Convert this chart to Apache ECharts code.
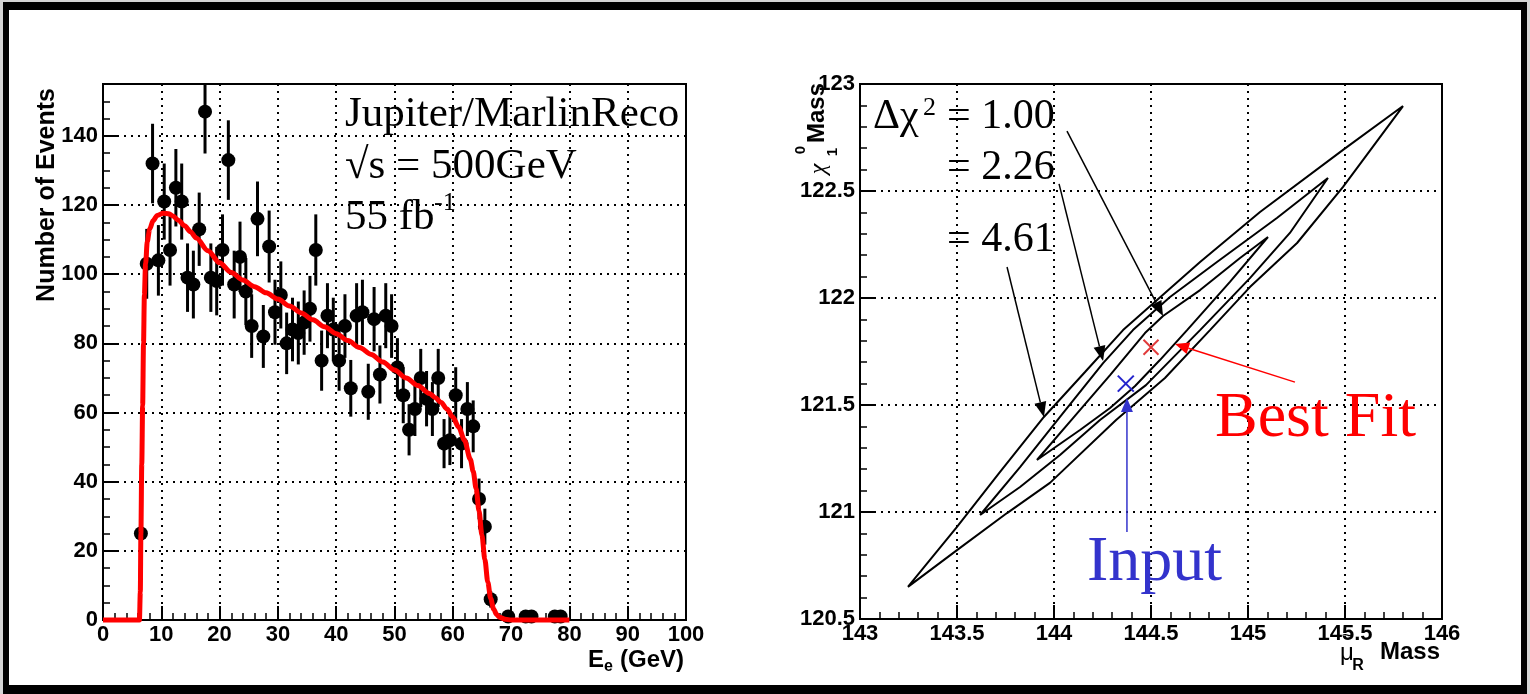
<!DOCTYPE html>
<html><head><meta charset="utf-8">
<script src="https://cdn.jsdelivr.net/npm/echarts@6/dist/echarts.min.js"></script>
<style>html,body{margin:0;padding:0;background:#d4d4d4;}#c{width:1530px;height:694px;}</style>
</head><body><div id="c"></div>
<script>
// ---------- Left plot: electron energy spectrum ----------
const energy = [6.5,7.5,8.5,9.5,10.5,11.5,12.5,13.5,14.5,15.5,16.5,17.5,18.5,19.5,20.5,21.5,22.5,23.5,24.5,25.5,
  26.5,27.5,28.5,29.5,30.5,31.5,32.5,33.5,34.5,35.5,36.5,37.5,38.5,39.5,40.5,41.5,42.5,43.5,44.5,45.5,
  46.5,47.5,48.5,49.5,50.5,51.5,52.5,53.5,54.5,55.5,56.5,57.5,58.5,59.5,60.5,61.5,62.5,63.5,64.5,65.5,
  66.5,69.5,72.5,73.5,77.5,78.5];
const events = [25,103,132,104,121,107,125,121,99,97,113,147,99,98,107,133,97,105,95,85,
  116,82,108,89,94,80,84,83,86,90,107,75,88,84,75,85,67,88,89,66,
  87,71,88,85,73,65,55,61,70,64,61,70,51,52,65,51,61,56,35,27,
  6,1,1,1,1,1];
const errors = [5,10.1,11.5,10.2,11,10.3,11.2,11,9.9,9.8,10.6,12.1,9.9,9.9,10.3,11.5,9.8,10.2,9.7,9.2,
  10.8,9.1,10.4,9.4,9.7,8.9,9.2,9.1,9.3,9.5,10.3,8.7,9.4,9.2,8.7,9.2,8.2,9.4,9.4,8.1,
  9.3,8.4,9.4,9.2,8.5,8.1,7.4,7.8,8.4,8,7.8,8.4,7.1,7.2,8.1,7.1,7.8,7.5,5.9,5.2,
  2.4,1,1,1,1,1];
const fitE = [0,6.25,6.4,6.5,6.65,6.8,6.95,7.1,7.3,7.6,8.0,8.6,9.3,10.3,11.3,12,13,14,15,16,18,20,22,24,26,28,30,32,34,36,38,40,
  42,44,46,48,50,52,54,56,57,58,59,60,61,62,63,63.5,64,64.5,65,65.5,66,66.5,67,67.5,68,69,70,80];
const fitN = [0,0,8,25,45,62,80,94,103,109.5,113,115.5,117,117.6,117.5,116.8,115.5,114,112.3,110.5,106.8,103.3,100.5,98.3,96.4,94.6,92.8,90.8,88.8,86.8,84.8,82.8,
  80.8,78.8,76.8,74.6,72.3,70,67.8,65.5,64.3,62.9,61,58.7,55.8,52,46.5,43,38,31.5,24.5,17.5,11,6.2,3.2,1.6,0.8,0.2,0,0];

// ---------- Right plot: mass contours ----------
const contourOuter = [[143.247,120.650],[143.500,120.930],[143.722,121.187],[143.948,121.444],[144.160,121.654],[144.356,121.850],
  [144.572,122.023],[144.753,122.168],[145.062,122.402],[145.490,122.692],[145.799,122.897],
  [145.490,122.519],[145.253,122.257],[145.010,122.051],[144.804,121.850],[144.572,121.626],[144.320,121.430],
  [143.979,121.136],[143.758,120.995],[143.500,120.822]];
const contourMiddle = [[143.619,120.986],[143.825,121.210],[144.031,121.444],[144.253,121.696],[144.407,121.850],[144.598,122.005],
  [144.840,122.168],[145.149,122.374],[145.412,122.561],
  [145.216,122.304],[145.010,122.093],[144.753,121.850],[144.474,121.593],[144.237,121.430],[144.031,121.266],[143.825,121.117]];
const contourInner = [[143.912,121.243],[144.098,121.439],[144.289,121.640],[144.469,121.836],[144.562,121.916],[144.753,122.037],
  [144.959,122.187],[145.103,122.285],
  [144.907,122.075],[144.686,121.850],[144.546,121.710],[144.418,121.589],[144.289,121.486],[144.134,121.383]];
const bestFit = [144.5, 121.77];
const inputPoint = [144.37, 121.6];
const contourLabels = ['1.00','2.26','4.61'];
const arrowsBlack = [[[144.067,122.780],[144.562,121.916]],[[144.026,122.533],[144.253,121.706]],[[143.758,122.145],[143.948,121.444]]];
const arrowRed = [[145.242,121.607],[144.624,121.785]];
const arrowBlue = [[144.376,120.907],[144.376,121.533]];

const SANS = 'Liberation Sans, Arial, Helvetica, sans-serif';
const SERIF = 'Liberation Serif, Times New Roman, serif';
const dots = {color:'#000', width:2, type:[2,5]};
const lbl = {color:'#000', fontFamily:SANS, fontWeight:'bold', fontSize:22};

function axis(gi, min, max, interval, minorSplit, isY){
  return {
    gridIndex:gi, type:'value', min:min, max:max, interval:interval,
    axisLine:{onZero:false, lineStyle:{color:'#000', width:2}},
    axisTick:{inside:true, length:14, lineStyle:{color:'#000', width:2}},
    minorTick:{show:true, splitNumber:minorSplit, length:7, lineStyle:{color:'#000', width:1.5}},
    splitLine:{show:true, lineStyle:dots},
    axisLabel:Object.assign({margin: isY?5:4}, lbl)
  };
}

function cross(color, s){
  return function(params, api){
    const c = api.coord([api.value(0), api.value(1)]);
    return {type:'group', children:[
      {type:'line', shape:{x1:c[0]-s,y1:c[1]-s,x2:c[0]+s,y2:c[1]+s}, style:{stroke:color,lineWidth:2}},
      {type:'line', shape:{x1:c[0]-s,y1:c[1]+s,x2:c[0]+s,y2:c[1]-s}, style:{stroke:color,lineWidth:2}}
    ]};
  };
}
const closed = a => a.concat([a[0]]);

const yLeft = axis(0, 0, 155, 20, 4, true);
yLeft.axisLabel.showMaxLabel = false;

const option = {
  animation:false,
  backgroundColor:'#d4d4d4',
  grid:[
    {left:103, top:84, width:583, height:536, show:true, borderColor:'#000', borderWidth:2},
    {left:860, top:84, width:582, height:535, show:true, borderColor:'#000', borderWidth:2}
  ],
  xAxis:[axis(0, 0, 100, 10, 5, false), axis(1, 143, 146, 0.5, 5, false)],
  yAxis:[yLeft, axis(1, 120.5, 123, 0.5, 5, true)],
  series:[
    {type:'custom', xAxisIndex:0, yAxisIndex:0, clip:true, z:3,
     data: energy.map((e,i)=>[e, events[i], errors[i]]),
     renderItem:(params, api)=>{
       const x=api.value(0), y=api.value(1), er=api.value(2);
       const a=api.coord([x,y-er]), b=api.coord([x,y+er]);
       return {type:'line', shape:{x1:a[0],y1:a[1],x2:b[0],y2:b[1]}, style:{stroke:'#000', lineWidth:3}};
     }},
    {type:'scatter', xAxisIndex:0, yAxisIndex:0, clip:false, z:4, symbol:'circle', symbolSize:14,
     itemStyle:{color:'#000', opacity:1}, data: energy.map((e,i)=>[e, events[i]])},
    {type:'line', xAxisIndex:0, yAxisIndex:0, clip:false, z:5, showSymbol:false, smooth:0.3, smoothMonotone:'x',
     lineStyle:{color:'#ff0000', width:5}, data: fitE.map((e,i)=>[e, fitN[i]])},
    {type:'line', xAxisIndex:1, yAxisIndex:1, showSymbol:false, lineStyle:{color:'#000', width:2}, data: closed(contourOuter)},
    {type:'line', xAxisIndex:1, yAxisIndex:1, showSymbol:false, lineStyle:{color:'#000', width:2}, data: closed(contourMiddle)},
    {type:'line', xAxisIndex:1, yAxisIndex:1, showSymbol:false, lineStyle:{color:'#000', width:2}, data: closed(contourInner)},
    {type:'custom', xAxisIndex:1, yAxisIndex:1, z:6, data:[bestFit], renderItem: cross('#e03a3a', 7.5)},
    {type:'custom', xAxisIndex:1, yAxisIndex:1, z:6, data:[inputPoint], renderItem: cross('#2323cc', 8)}
  ]
};

const chart = echarts.init(document.getElementById('c'), null, {renderer:'canvas'});
chart.setOption(option);

// ---------- annotations (texts, arrows, page frame) ----------
const P = p => chart.convertToPixel({gridIndex:1}, p);
function arrow(from, to, color, width, L, W){
  const a = P(from), b = P(to);
  const dx=b[0]-a[0], dy=b[1]-a[1], len=Math.hypot(dx,dy), ux=dx/len, uy=dy/len;
  const bx=b[0]-ux*L, by=b[1]-uy*L, nx=-uy, ny=ux;
  return [
    {type:'line', z:50, shape:{x1:a[0],y1:a[1],x2:bx,y2:by}, style:{stroke:color, lineWidth:width}},
    {type:'polygon', z:50, shape:{points:[[b[0],b[1]],[bx+nx*W,by+ny*W],[bx-nx*W,by-ny*W]]}, style:{fill:color}}
  ];
}
function txt(text, x, y, size, opts){
  return Object.assign({type:'text', z:60, x:x, y:y, style:Object.assign({
    text:text, fill:'#000', fontSize:size, fontFamily:SERIF, align:'left', verticalAlign:'middle'}, (opts||{}).style||{})},
    (opts||{}).el||{});
}

const g = [
  {type:'rect', z:-10, shape:{x:3,y:2,width:1524,height:692}, style:{fill:'#000'}},
  {type:'rect', z:-9, shape:{x:9,y:10,width:1512,height:675}, style:{fill:'#fff'}},
  // left plot labels
  txt('Jupiter/MarlinReco', 345, 115, 43),
  txt('\u221As = 500GeV', 345, 167, 43),
  txt('55 fb', 345, 218, 43),
  txt('-1', 434, 203, 26),
  // right plot labels
  txt('\u0394\u03C7', 873, 117, 42),
  txt('2', 923, 108, 26),
  txt('= ' + contourLabels[0], 947, 117, 42),
  txt('= ' + contourLabels[1], 947, 168, 42),
  txt('= ' + contourLabels[2], 947, 240, 42),
  txt('Best Fit', 1215, 419, 64, {style:{fill:'#ff0000'}}),
  txt('Input', 1087, 563, 64, {style:{fill:'#3333cc'}}),
  // axis titles
  txt('Number of Events', 47, 88, 25, {style:{fontFamily:SANS, fontWeight:'bold', align:'right'}, el:{rotation:Math.PI/2}}),
  txt(' (GeV)', 684, 660, 24, {style:{fontFamily:SANS, fontWeight:'bold', align:'right'}}),
  txt('e', 613, 667, 16, {style:{fontFamily:SANS, fontWeight:'bold', align:'right'}}),
  txt('E', 604, 660, 24, {style:{fontFamily:SANS, fontWeight:'bold', align:'right'}}),
  txt('Mass', 1440, 652, 24, {style:{fontFamily:SANS, fontWeight:'bold', align:'right'}}),
  txt('R', 1358, 666, 16, {style:{fontFamily:SANS, fontWeight:'bold', align:'center'}}),
  txt('\u03BC', 1347, 653, 24, {style:{fontFamily:SANS, align:'center'}}),
  txt('~', 1347, 636, 18, {style:{fontFamily:SANS, align:'center'}}),
  txt('Mass', 817, 113, 24, {style:{fontFamily:SANS, fontWeight:'bold', align:'center'}, el:{rotation:Math.PI/2}}),
  txt('\u03C7', 819, 169, 24, {style:{fontFamily:SERIF, fontStyle:'italic', align:'center'}, el:{rotation:Math.PI/2}}),
  txt('0', 801, 150, 15, {style:{fontFamily:SANS, fontWeight:'bold', align:'center'}, el:{rotation:Math.PI/2}}),
  txt('1', 833, 152, 15, {style:{fontFamily:SANS, fontWeight:'bold', align:'center'}, el:{rotation:Math.PI/2}})
];
arrowsBlack.forEach(a => g.push(...arrow(a[0], a[1], '#000', 1.5, 15, 6)));
g.push(...arrow(arrowRed[0], arrowRed[1], '#ff0000', 1.5, 14, 6));
g.push(...arrow(arrowBlue[0], arrowBlue[1], '#3333cc', 1.5, 14, 6));
chart.setOption({graphic: g});
</script></body></html>
